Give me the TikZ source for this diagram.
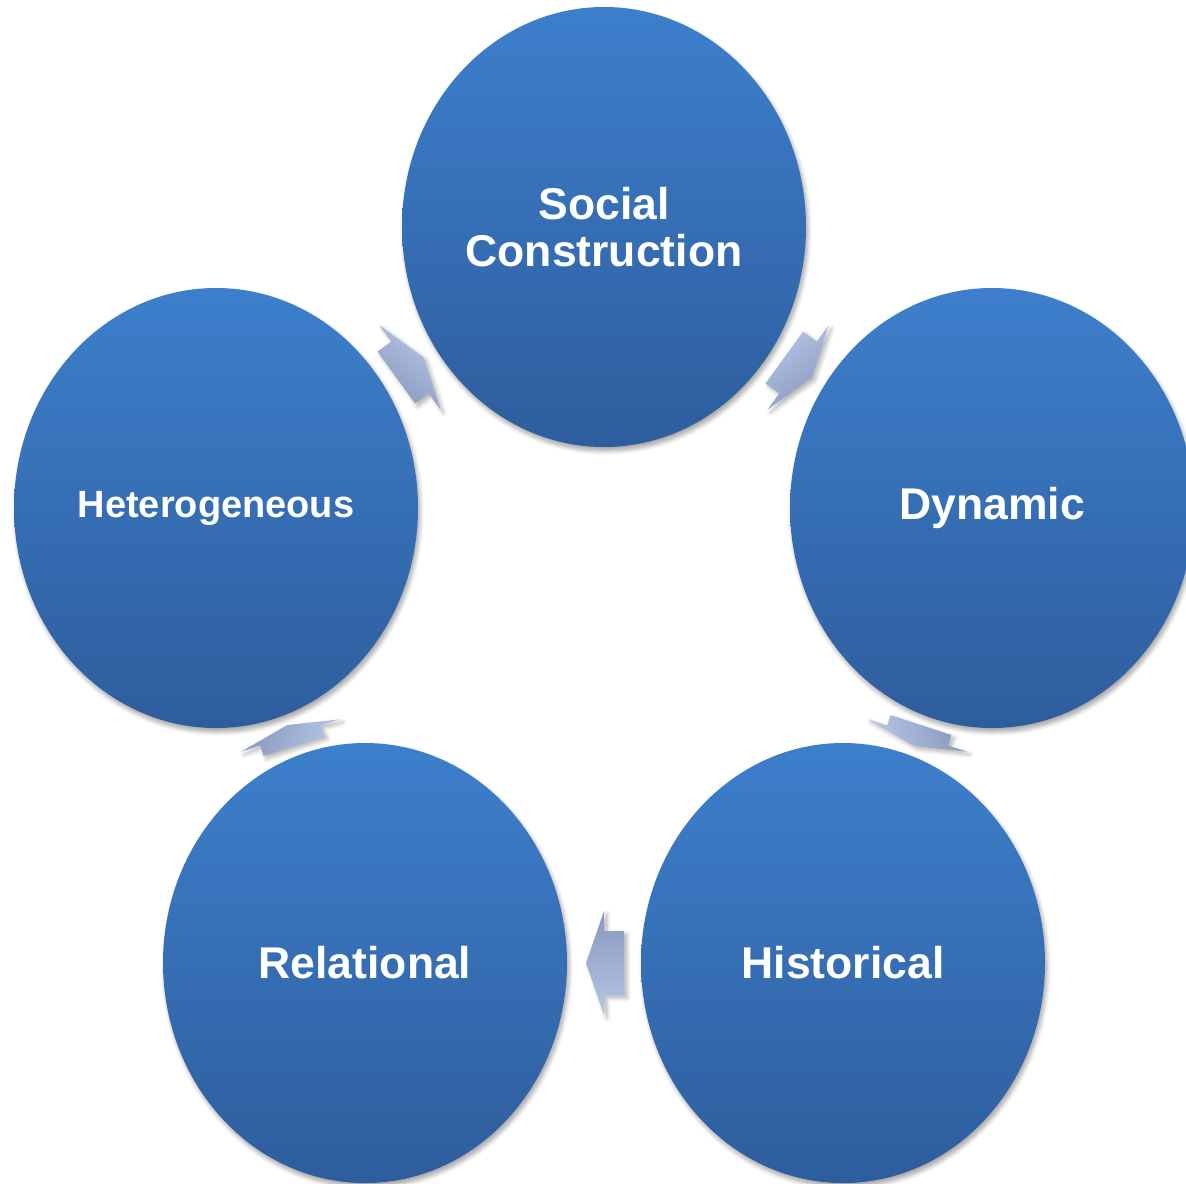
\documentclass[tikz,border=0pt]{standalone}
\usepackage{fontspec}
\setmainfont{Liberation Sans}
\usetikzlibrary{shapes.geometric,calc,shadows.blur}
\definecolor{elltop}{RGB}{61,127,204}
\definecolor{ellbot}{RGB}{46,93,157}
\definecolor{arrtop}{RGB}{180,197,230}
\definecolor{arrbot}{RGB}{136,153,190}
\tikzset{
  bubble/.style={ellipse, inner sep=0pt, minimum width=202pt, minimum height=220pt,
    top color=elltop, bottom color=ellbot, draw=none, text=white, align=center,
    font=\bfseries\fontsize{22.25}{23.5}\selectfont,
    blur shadow={shadow xshift=1pt, shadow yshift=-2pt, shadow opacity=35, shadow blur steps=6}},
  smallbubble/.style={bubble, font=\bfseries\fontsize{19}{21}\selectfont},
  arrowfill/.style={top color=arrtop, bottom color=arrbot, draw=none,
    blur shadow={shadow xshift=1.5pt, shadow yshift=-1.5pt, shadow opacity=30, shadow blur steps=5}}
}
\newcommand\cyclearrow[4]{%
  \path let \p1=(#1.center), \p2=(#2.center), \n1={atan2(\y2-\y1,\x2-\x1)} in \pgfextra{\xdef\cycang{\n1}};
  \pgfmathsetmacro\cycneg{-(\cycang)}%
  \begin{scope}[shift={($(#1.center)!0.5!(#2.center)$)}, rotate=\cycang]
    \path[arrowfill, shading angle=\cycneg] (-#3,-32) -- (0,-32) -- (0,-52) -- (#4,0) -- (0,52) -- (0,32) -- (-#3,32) -- cycle;
  \end{scope}}
\begin{document}
\begin{tikzpicture}[x=0.5pt, y=-0.5pt]
  \useasboundingbox (0,0) rectangle (1186,1183);
  \node[bubble] (soc) at (604,227) {Social\\Construction};
  \node[bubble] (dyn) at (992,508) {Dynamic};
  \node[bubble] (his) at (843,963) {Historical};
  \node[bubble] (rel) at (365,963) {Relational};
  \node[smallbubble] (het) at (216,508) {Heterogeneous};
  \cyclearrow{soc}{dyn}{17}{17}
  \cyclearrow{dyn}{his}{11}{11}
  \cyclearrow{his}{rel}{20}{18}
  \cyclearrow{rel}{het}{11}{11}
  \cyclearrow{het}{soc}{17}{17}
\end{tikzpicture}
\end{document}
